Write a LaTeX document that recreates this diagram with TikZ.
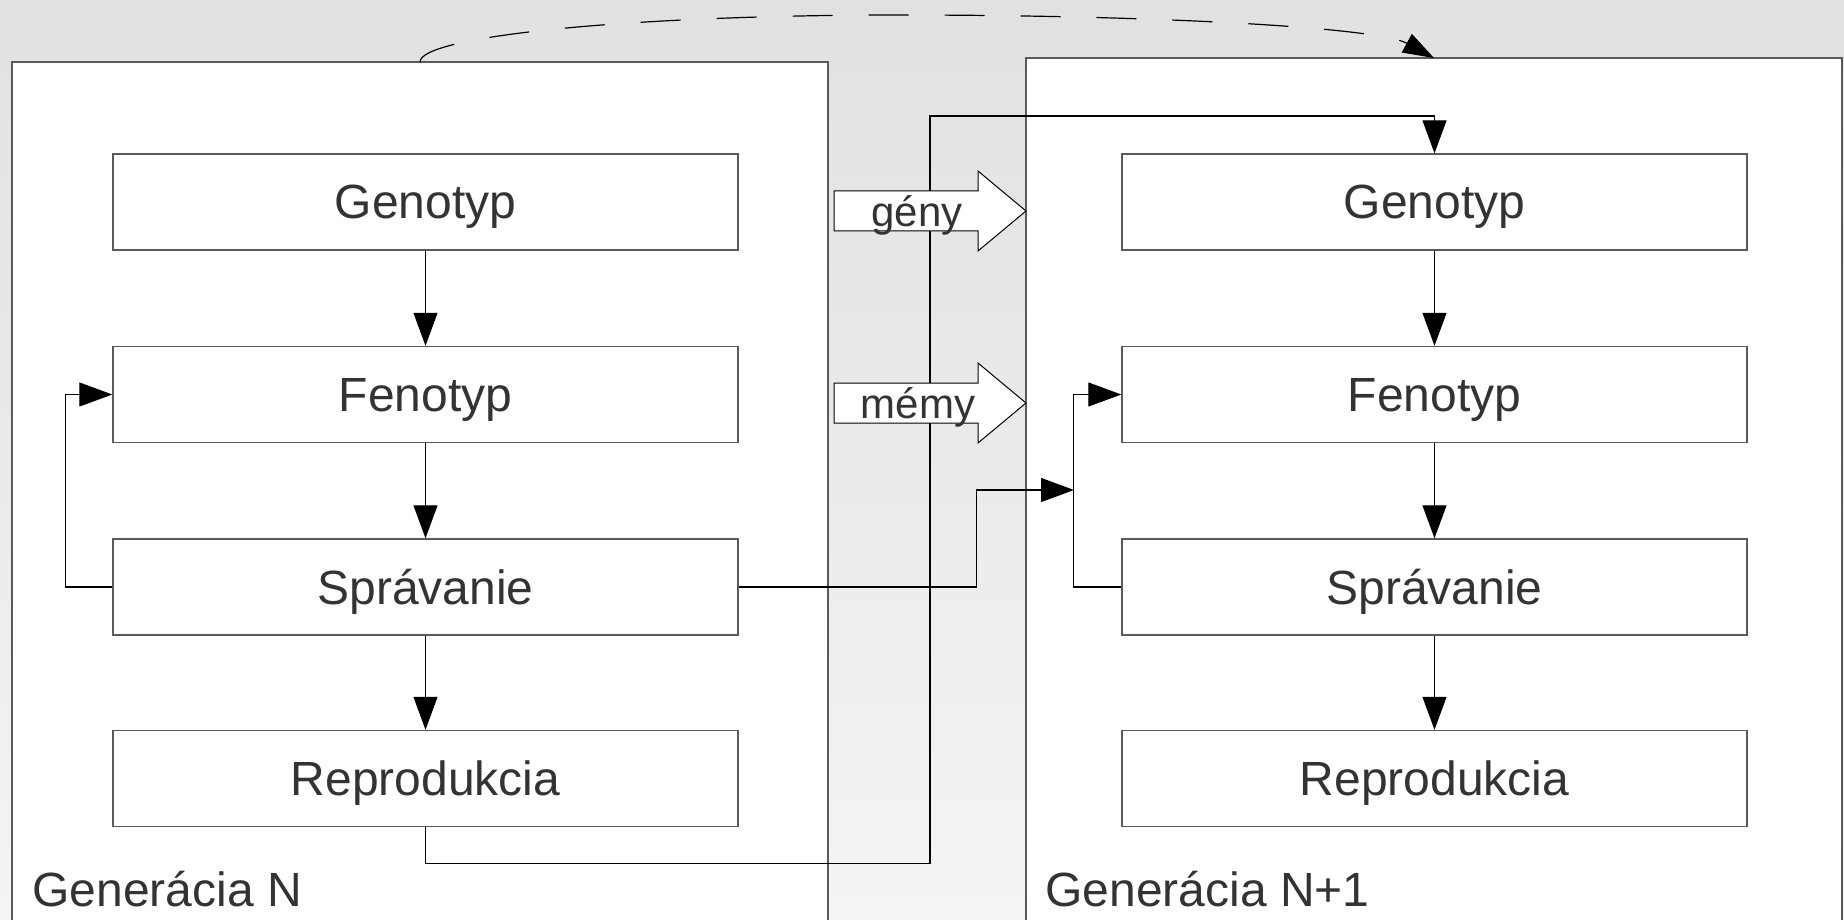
\documentclass[tikz,border=0pt]{standalone}
\usepackage{fontspec}
\setmainfont{Liberation Sans}
\usetikzlibrary{arrows.meta}
\definecolor{txt}{HTML}{333333}
\definecolor{bgtop}{HTML}{E1E1E1}
\definecolor{bgbot}{HTML}{F4F4F4}
\definecolor{edge}{HTML}{5A5A5A}

\begin{document}
\begin{tikzpicture}[x=0.5pt,y=-0.5pt,
  stage/.style={draw=edge, line width=0.7pt, fill=white, minimum width=312.5pt,
    minimum height=48pt, inner sep=0pt, text height=17pt, text depth=0pt,
    font=\fontsize{24}{28}\selectfont, text=txt},
  frame/.style={draw=edge, line width=0.9pt, fill=white},
  wire/.style={draw=black, line width=0.6pt},
  link/.style={wire, -{Triangle[length=16.5pt,width=12pt]}},
  blockarrow/.style={draw=black, line width=0.5pt, fill=white},
  lbl/.style={font=\fontsize{21}{25}\selectfont, text=txt, inner sep=0pt},
  genlbl/.style={font=\fontsize{24}{28}\selectfont, text=txt, inner sep=0pt, anchor=base west}]

\useasboundingbox (0,0) rectangle (1844,920);
\shade[top color=bgtop, bottom color=bgbot] (0,0) rectangle (1844,920);

% the two generation frames
\path[frame] (12,62) rectangle (828,940);
\path[frame] (1026,58) rectangle (1842,940);
\coordinate (arcA) at (420,62);
\coordinate (arcB) at (1434,58);

\node[genlbl] (labN) at (32,906) {Generácia N};
\node[genlbl] (labM) at (1045,906) {Generácia N+1};

% stages of generation N
\node[stage] (gN) at (425.5,202) {Genotyp};
\node[stage] (fN) at (425.5,394.5) {Fenotyp};
\node[stage] (sN) at (425.5,587) {Správanie};
\node[stage] (rN) at (425.5,778.5) {Reprodukcia};

% stages of generation N+1
\node[stage] (gM) at (1434.5,202) {Genotyp};
\node[stage] (fM) at (1434.5,394.5) {Fenotyp};
\node[stage] (sM) at (1434.5,587) {Správanie};
\node[stage] (rM) at (1434.5,778.5) {Reprodukcia};

% vertical flow inside each generation
\foreach \a/\b in {gN/fN, fN/sN, sN/rN, gM/fM, fM/sM, sM/rM}
  \draw[link] (\a.south) -- (\b.north);

% behaviour feeds back into phenotype
\draw[link] (sN.west) -- ++(-47,0) |- (fN.west);
\draw[link] (sM.west) -- ++(-48,0) |- (fM.west);

% behaviour of N influences the feedback loop of N+1
\coordinate (jM) at (1074,490);
\draw[link] (sN.east) -- ++(238,0) |- (jM);

% reproduction of N produces the genotype of N+1
\draw[link] (rN.south) -- ++(0,36.5) -| (930,116) -| (gM.north);

% inheritance channels
\path[blockarrow] (834,191) -- (978,191) -- (978,171) -- (1026,211) -- (978,251)
  -- (978,231) -- (834,231) -- cycle;
\path[blockarrow] (834,383) -- (978,383) -- (978,363) -- (1026,403) -- (978,443)
  -- (978,423) -- (834,423) -- cycle;
\node[lbl, anchor=base] (geny) at (917,227) {gény};
\node[lbl, anchor=base] (memy) at (918,418) {mémy};

% generation to generation
\coordinate (arcTop) at (900,15);
\draw[wire, dash pattern=on 20pt off 18pt, -{Triangle[length=15.5pt,width=10.5pt]}]
  (arcA) .. controls (420,36) and (630,15) .. (arcTop)
         .. controls (1150,15) and (1377,27) .. (arcB);
\end{tikzpicture}
\end{document}
